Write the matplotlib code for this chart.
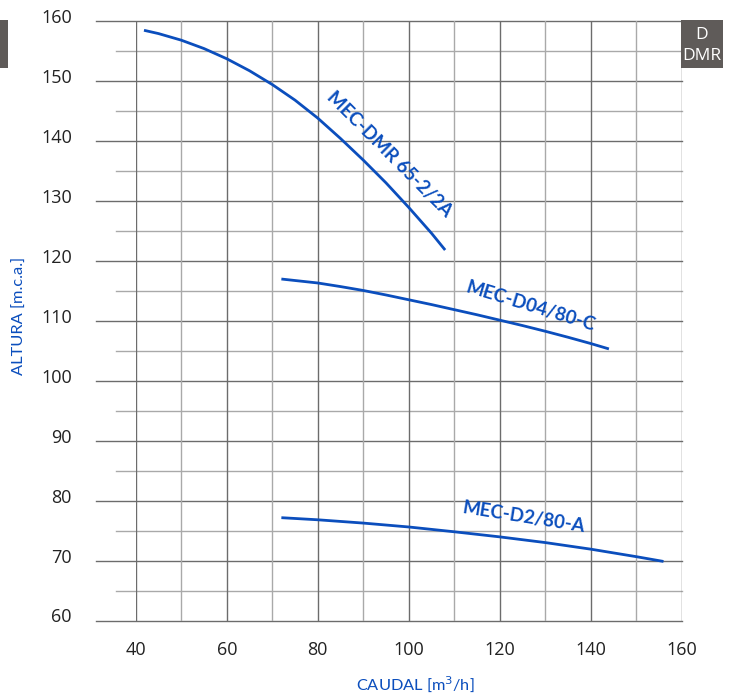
import matplotlib.pyplot as plt
from matplotlib.patches import Rectangle
from matplotlib.transforms import ScaledTranslation

# curve readings (caudal m3/h, altura m.c.a.)
dmr_q = [41.8, 45, 50, 55, 60, 65, 70, 75, 80, 85, 90, 95, 100, 105, 108]
dmr_h = [158.45, 157.9, 156.8, 155.4, 153.7, 151.7, 149.4, 146.8, 143.8, 140.4,
         136.8, 133.0, 128.9, 124.6, 121.8]
d04_q = [72, 80, 85, 90, 95, 100, 105, 110, 115, 120, 125, 130, 135, 140, 144]
d04_h = [116.96, 116.3, 115.7, 115.05, 114.3, 113.5, 112.7, 111.85, 111.0, 110.1,
         109.2, 108.25, 107.25, 106.2, 105.3]
d2_q = [72, 80, 90, 100, 110, 120, 130, 140, 150, 156]
d2_h = [77.15, 76.8, 76.25, 75.6, 74.8, 73.95, 73.0, 71.9, 70.65, 69.85]

curve_names = ["MEC-DMR 65-2/2A", "MEC-D04/80-C", "MEC-D2/80-A"]
xticks = [40, 60, 80, 100, 120, 140, 160]
yticks = [60, 70, 80, 90, 100, 110, 120, 130, 140, 150, 160]

blue = "#0b4ebd"
dark = "#6c6c6c"
light = "#a9a9a9"
box_grey = "#5f5b59"

W, H = 738, 699
fig = plt.figure(figsize=(W / 100, H / 100), dpi=100)
ax = fig.add_axes([135.8 / W, 78.5 / H, (681.7 - 135.8) / W, (620.5 - 21) / H])
ax.set_xlim(40, 160)
ax.set_ylim(60, 160)
for s in ax.spines.values():
    s.set_visible(False)

# grid: horizontal lines reach out to the left of the plot
for y in range(60, 161, 5):
    major = y % 10 == 0
    ax.axhline(y, xmin=-0.0729 if major else -0.0363, xmax=1,
               color=dark if major else light, lw=1.0, clip_on=False, zorder=1)
for x in range(40, 161, 10):
    major = x % 20 == 0
    ax.axvline(x, color=dark if major else light, lw=1.0, zorder=1)

ax.plot(dmr_q, dmr_h, color=blue, lw=2.0, zorder=3, solid_capstyle="butt")
ax.plot(d04_q, d04_h, color=blue, lw=2.0, zorder=3, solid_capstyle="butt")
ax.plot(d2_q, d2_h, color=blue, lw=2.0, zorder=3, solid_capstyle="butt")

lab = dict(color=blue, fontsize=13.5, fontweight="bold", family="Lato",
           ha="center", va="center", rotation_mode="anchor", zorder=4)
ax.text(95.8, 137.7, curve_names[0], rotation=-45, **lab)
ax.text(126.7, 112.4, curve_names[1], rotation=-17, **lab)
ax.text(125.3, 77.3, curve_names[2], rotation=-9, **lab)

ax.set_xticks(xticks)
ax.set_yticks(yticks)
ax.tick_params(length=0, labelsize=13, labelcolor="#222222")
ax.tick_params(axis="x", pad=15)
ax.tick_params(axis="y", pad=46)
up = ScaledTranslation(0, 0.05, fig.dpi_scale_trans)
for t in ax.get_yticklabels():
    t.set_transform(t.get_transform() + up)
for t in ax.get_xticklabels() + ax.get_yticklabels():
    t.set_family("Open Sans")

fig.text(415 / W, 1 - 684 / H, "CAUDAL [m$^3$/h]", color=blue, fontsize=11.8,
         family="Lato", ha="center", va="center")
fig.text(20 / W, 1 - 316 / H, "ALTURA [m.c.a.]", color=blue, fontsize=11.8,
         family="Lato", ha="center", va="center", rotation=90)

# grey tabs
fig.add_artist(Rectangle((681 / W, 1 - 68 / H), 42 / W, 48 / H,
                         transform=fig.transFigure, color=box_grey, lw=0))
fig.add_artist(Rectangle((0, 1 - 68 / H), 8 / W, 48 / H,
                         transform=fig.transFigure, color=box_grey, lw=0))
fig.text(702 / W, 1 - 35 / H, "D", color="white", fontsize=12.5,
         ha="center", va="center", family="Open Sans")
fig.text(702 / W, 1 - 56 / H, "DMR", color="white", fontsize=12.5,
         ha="center", va="center", family="Open Sans")

fig.savefig("out.png", dpi=100)
